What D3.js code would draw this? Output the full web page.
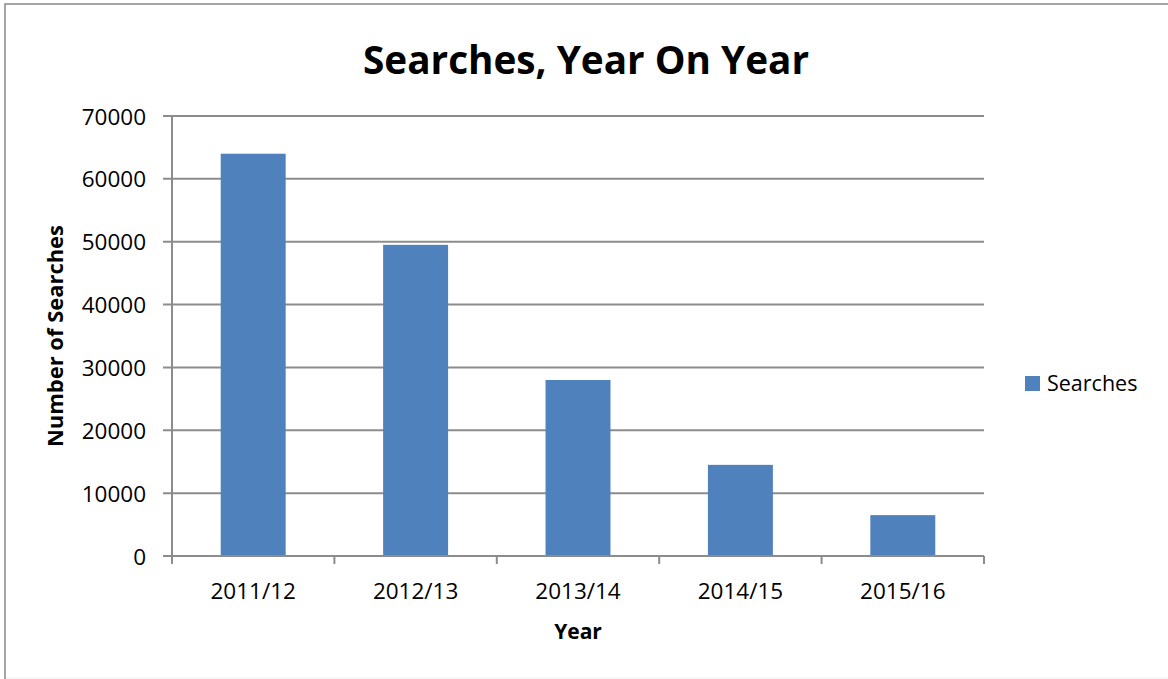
<!DOCTYPE html>
<html>
<head>
<meta charset="utf-8">
<script src="https://cdn.jsdelivr.net/npm/d3@7"></script>
<style>
  html, body { margin: 0; padding: 0; background: #fff; }
  svg { display: block; font-family: "Open Sans", "Noto Sans", sans-serif; }
</style>
</head>
<body>
<svg id="chart" width="1168" height="679"></svg>
<script>
const categories = ["2011/12", "2012/13", "2013/14", "2014/15", "2015/16"];
const searches = [64000, 49500, 28000, 14500, 6500];
const yTicks = [0, 10000, 20000, 30000, 40000, 50000, 60000, 70000];
const seriesName = "Searches";
const titleText = "Searches, Year On Year";
const xTitle = "Year";
const yTitle = "Number of Searches";

const svg = d3.select("#chart");
const W = 1168, H = 679;
const plot = { left: 172, top: 116, right: 984, bottom: 556 };
const gridColor = "#8c8c8c";
const barColor = "#4f81bd";
const FONT = "'Open Sans', 'Noto Sans', sans-serif";

// outer frame (right and bottom edges fall outside the view)
svg.append("rect").attr("x", 5).attr("y", 4).attr("width", 1200).attr("height", 700)
  .attr("fill", "#fff").attr("stroke", "#888").attr("stroke-width", 1.5);
svg.append("line").attr("x1", 6).attr("x2", W).attr("y1", 678).attr("y2", 678)
  .attr("stroke", "#eee").attr("stroke-width", 1);

const x = d3.scaleBand().domain(categories).range([plot.left, plot.right])
  .paddingInner(0.6).paddingOuter(0.3);
const y = d3.scaleLinear().domain([0, 70000]).range([plot.bottom, plot.top]);

// y axis labels
const yAxis = d3.axisLeft(y).tickValues(yTicks).tickSize(0).tickFormat(d3.format("d")).tickPadding(26);
const gy = svg.append("g").attr("transform", `translate(${plot.left},0)`).call(yAxis)
  .attr("font-family", FONT);
gy.select(".domain").remove();
gy.selectAll("text").attr("font-size", 22.5).attr("fill", "#000").attr("dy", "0.36em");

// gridlines
svg.append("g").selectAll("line.grid").data(yTicks).join("line")
  .attr("x1", plot.left - 9).attr("x2", plot.right)
  .attr("y1", d => y(d)).attr("y2", d => y(d))
  .attr("stroke", gridColor).attr("stroke-width", 2);

// y axis line
svg.append("line").attr("x1", plot.left).attr("x2", plot.left)
  .attr("y1", plot.top).attr("y2", plot.bottom + 8)
  .attr("stroke", gridColor).attr("stroke-width", 2);

// bars
svg.append("g").selectAll("rect").data(categories).join("rect")
  .attr("x", d => x(d)).attr("width", x.bandwidth())
  .attr("y", (d, i) => y(searches[i]))
  .attr("height", (d, i) => y(0) - y(searches[i]))
  .attr("fill", barColor);

// x axis
const boundaries = categories.map(c => x(c) - x.step() * 0.3).concat([plot.right]);
svg.append("line").attr("x1", plot.left - 9).attr("x2", plot.right)
  .attr("y1", plot.bottom).attr("y2", plot.bottom)
  .attr("stroke", gridColor).attr("stroke-width", 2);
svg.append("g").selectAll("line").data(boundaries).join("line")
  .attr("x1", d => d).attr("x2", d => d)
  .attr("y1", plot.bottom).attr("y2", plot.bottom + 8)
  .attr("stroke", gridColor).attr("stroke-width", 2);

const xAxis = d3.axisBottom(x).tickSize(0).tickPadding(0);
const gx = svg.append("g").attr("transform", `translate(0,${plot.bottom})`).call(xAxis)
  .attr("font-family", FONT);
gx.select(".domain").remove();
gx.selectAll("text").attr("font-size", 22.5).attr("fill", "#000").attr("y", 43).attr("dy", 0);

// titles
svg.append("text").attr("x", 586).attr("y", 74).attr("text-anchor", "middle")
  .attr("font-size", 40).attr("font-weight", "bold").attr("fill", "#000")
  .attr("textLength", 446).attr("lengthAdjust", "spacingAndGlyphs")
  .text(titleText);

svg.append("text").attr("x", (plot.left + plot.right) / 2).attr("y", 639)
  .attr("text-anchor", "middle").attr("font-size", 21).attr("font-weight", "bold")
  .attr("fill", "#000").text(xTitle);

svg.append("text")
  .attr("transform", `translate(63,${(plot.top + plot.bottom) / 2}) rotate(-90)`)
  .attr("text-anchor", "middle").attr("font-size", 21).attr("font-weight", "bold")
  .attr("fill", "#000").attr("textLength", 222).attr("lengthAdjust", "spacingAndGlyphs")
  .text(yTitle);

// legend
svg.append("rect").attr("x", 1025).attr("y", 376).attr("width", 15).attr("height", 15)
  .attr("fill", barColor);
svg.append("text").attr("x", 1047).attr("y", 391).attr("font-size", 21.5)
  .attr("fill", "#000").text(seriesName);
</script>
</body>
</html>
